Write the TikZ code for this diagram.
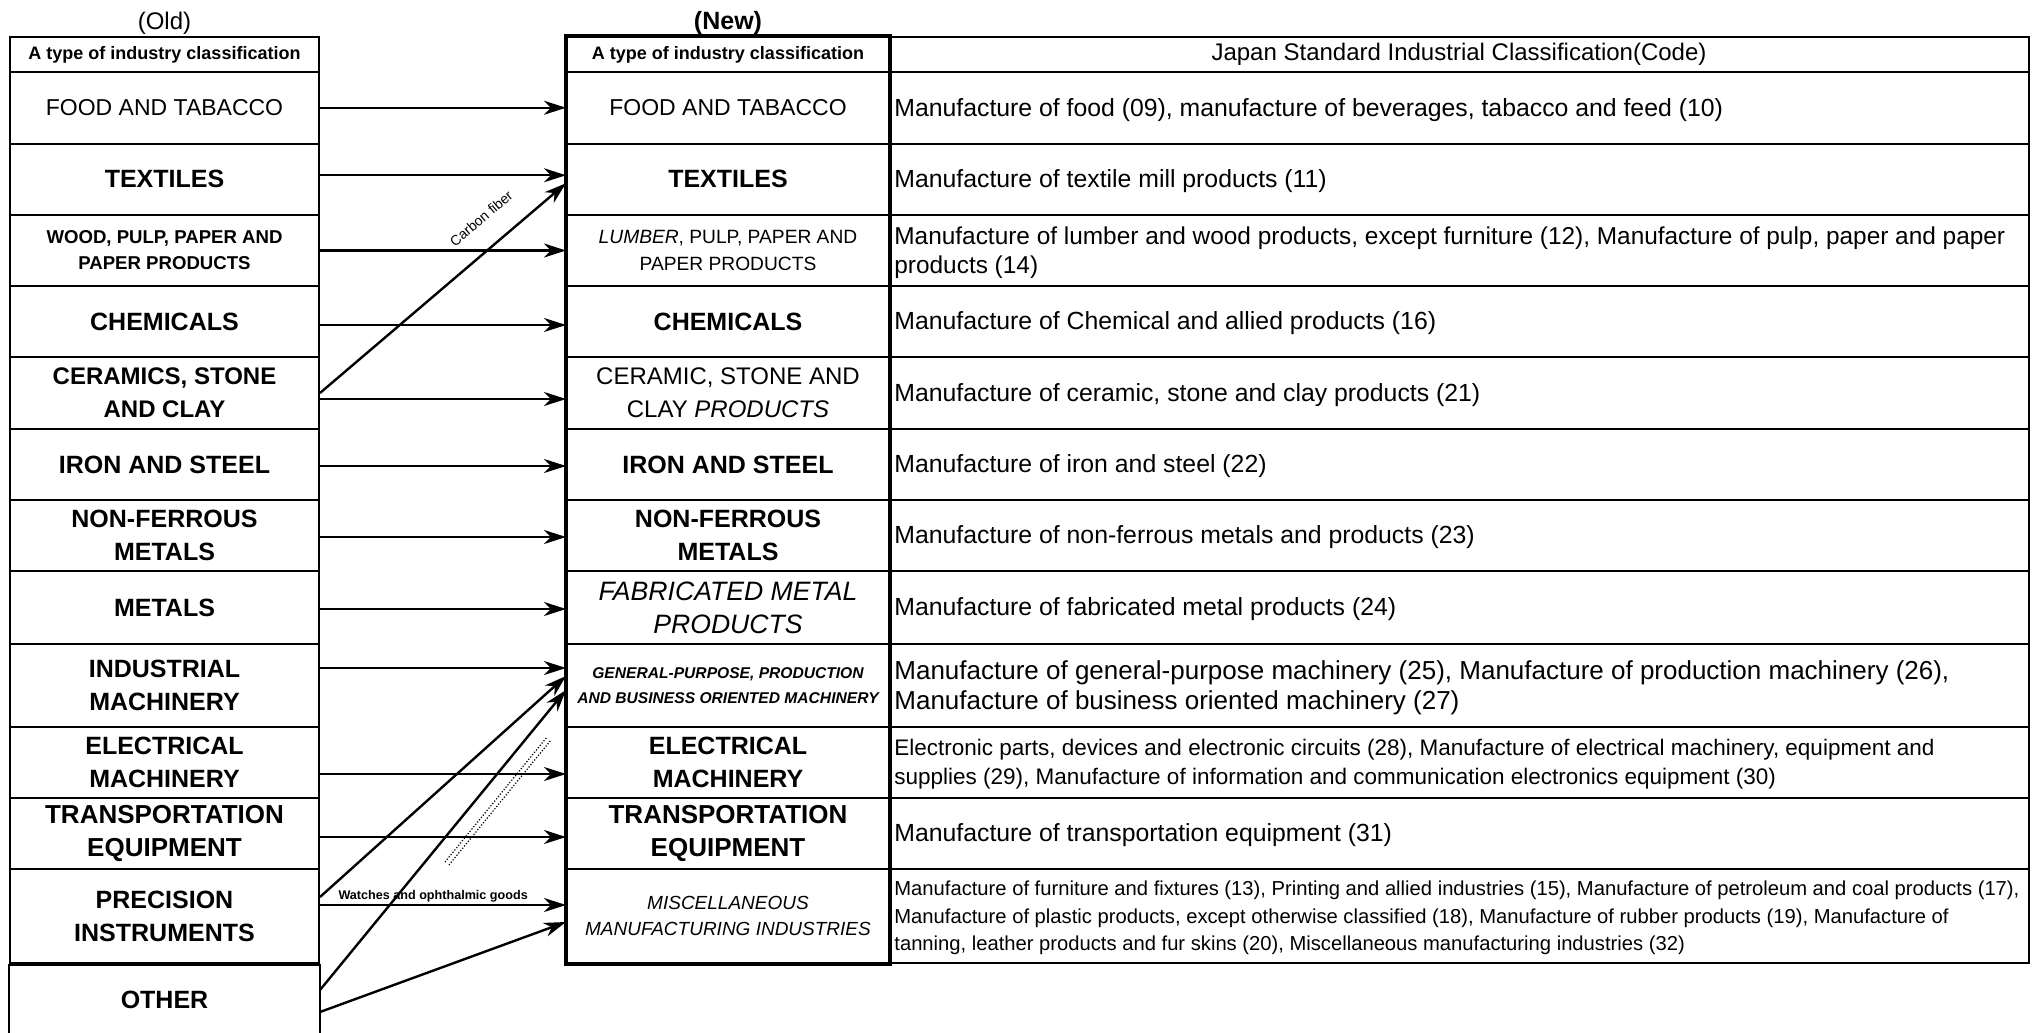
\documentclass[tikz,border=0pt]{standalone}
\usepackage{fontspec}
\setmainfont{Liberation Sans}
\usetikzlibrary{arrows.meta}
\begin{document}
\begin{tikzpicture}[x=0.5pt,y=-0.5pt,
 lbl/.style={draw, line width=1pt, inner sep=1pt, align=center, font=\bfseries\fontsize{12.5}{16.5}\selectfont},
 ocol/.style={lbl, minimum width=154.5pt},
 ncol/.style={lbl, minimum width=161pt},
 rcol/.style={draw, line width=1pt, minimum width=570pt, inner sep=0pt},
 rtxt/.style={anchor=west, align=left, inner sep=0pt, font=\fontsize{12.4}{15}\selectfont},
 hdrfont/.style={font=\bfseries\fontsize{9}{11}\selectfont},
 arr/.style={line width=1.2pt, -{Stealth[length=11pt,width=7pt,inset=3.5pt]}},
 small/.style={font=\fontsize{7}{8}\selectfont, inner sep=0pt}
]
\useasboundingbox (0,0) rectangle (2035,1033);

% titles
\node[font=\fontsize{12}{14}\selectfont] (tOld) at (164.5,23) {(Old)};
\node[font=\bfseries\fontsize{12.5}{14}\selectfont] (tNew) at (728,23) {(New)};

% old column
\node[ocol, hdrfont, minimum height=17.5pt] (oHdr) at (164.5,54.5) {A type of industry classification};
\node[ocol, font=\fontsize{11.5}{15}\selectfont, minimum height=35.75pt] (oFood) at (164.5,107.75) {FOOD AND TABACCO};
\node[ocol, minimum height=35.75pt] (oTex) at (164.5,179.25) {TEXTILES};
\node[ocol, font=\bfseries\fontsize{9.3}{13}\selectfont, minimum height=35.5pt] (oWood) at (164.5,250.5) {WOOD, PULP, PAPER AND\\PAPER PRODUCTS};
\node[ocol, minimum height=35.5pt] (oChem) at (164.5,321.5) {CHEMICALS};
\node[ocol, font=\bfseries\fontsize{12}{16.5}\selectfont, minimum height=36pt] (oCer) at (164.5,393) {CERAMICS, STONE\\AND CLAY};
\node[ocol, minimum height=35.5pt] (oIron) at (164.5,464.5) {IRON AND STEEL};
\node[ocol, minimum height=35.5pt] (oNonf) at (164.5,535.5) {NON-FERROUS\\METALS};
\node[ocol, minimum height=36.5pt] (oMet) at (164.5,607.5) {METALS};
\node[ocol, minimum height=41.5pt] (oInd) at (164.5,685.5) {INDUSTRIAL\\MACHINERY};
\node[ocol, minimum height=35.5pt] (oElec) at (164.5,762.5) {ELECTRICAL\\MACHINERY};
\node[ocol, font=\bfseries\fontsize{13}{16.5}\selectfont, minimum height=35.5pt] (oTrans) at (164.5,833.5) {TRANSPORTATION\\EQUIPMENT};
\node[ocol, minimum height=47pt] (oPrec) at (164.5,916) {PRECISION\\INSTRUMENTS};
\node[lbl, draw=none, minimum width=154.5pt, minimum height=35pt] (oOther) at (164.5,1000) {OTHER};
\draw[line width=1pt] ([yshift=-2pt]oOther.south west) -- (oOther.north west) (oOther.north east) -- ([yshift=-2pt]oOther.south east);
\draw[line width=1.6pt] (oPrec.south west) -- (oPrec.south east);

% new column
\node[ncol, hdrfont, minimum height=17.5pt] (nHdr) at (728,54.5) {A type of industry classification};
\node[ncol, font=\fontsize{11.5}{15}\selectfont, minimum height=35.75pt] (nFood) at (728,107.75) {FOOD AND TABACCO};
\node[ncol, minimum height=35.75pt] (nTex) at (728,179.25) {TEXTILES};
\node[ncol, font=\fontsize{9.6}{13.3}\selectfont, minimum height=35.5pt] (nLum) at (728,250.5) {\textit{LUMBER}, PULP, PAPER AND\\PAPER PRODUCTS};
\node[ncol, minimum height=35.5pt] (nChem) at (728,321.5) {CHEMICALS};
\node[ncol, font=\fontsize{12}{16.5}\selectfont, minimum height=36pt] (nCer) at (728,393) {CERAMIC, STONE AND\\CLAY \textit{PRODUCTS}};
\node[ncol, minimum height=35.5pt] (nIron) at (728,464.5) {IRON AND STEEL};
\node[ncol, minimum height=35.5pt] (nNonf) at (728,535.5) {NON-FERROUS\\METALS};
\node[ncol, font=\itshape\fontsize{13.3}{16.5}\selectfont, minimum height=36.5pt] (nFab) at (728,607.5) {FABRICATED METAL\\PRODUCTS};
\node[ncol, font=\bfseries\itshape\fontsize{7.8}{12.5}\selectfont, minimum height=41.5pt] (nGen) at (728,685.5) {GENERAL-PURPOSE, PRODUCTION\\AND BUSINESS ORIENTED MACHINERY};
\node[ncol, minimum height=35.5pt] (nElec) at (728,762.5) {ELECTRICAL\\MACHINERY};
\node[ncol, font=\bfseries\fontsize{13}{16.5}\selectfont, minimum height=35.5pt] (nTrans) at (728,833.5) {TRANSPORTATION\\EQUIPMENT};
\node[ncol, font=\itshape\fontsize{9.5}{13.3}\selectfont, minimum height=47pt] (nMisc) at (728,916) {MISCELLANEOUS\\MANUFACTURING INDUSTRIES};

% right column (cells)
\node[rcol, minimum height=17.5pt, font=\fontsize{12}{13}\selectfont] (rHdr) at (1459,54.5) {Japan Standard Industrial Classification(Code)};
\node[rcol, minimum height=35.75pt] (rFood) at (1459,107.75) {};
\node[rcol, minimum height=35.75pt] (rTex) at (1459,179.25) {};
\node[rcol, minimum height=35.5pt] (rWood) at (1459,250.5) {};
\node[rcol, minimum height=35.5pt] (rChem) at (1459,321.5) {};
\node[rcol, minimum height=36pt] (rCer) at (1459,393) {};
\node[rcol, minimum height=35.5pt] (rIron) at (1459,464.5) {};
\node[rcol, minimum height=35.5pt] (rNonf) at (1459,535.5) {};
\node[rcol, minimum height=36.5pt] (rMet) at (1459,607.5) {};
\node[rcol, minimum height=41.5pt] (rGen) at (1459,685.5) {};
\node[rcol, minimum height=35.5pt] (rElec) at (1459,762.5) {};
\node[rcol, minimum height=35.5pt] (rTrans) at (1459,833.5) {};
\node[rcol, minimum height=47pt] (rMisc) at (1459,916) {};

% right column texts
\node[rtxt] (xFood) at ([xshift=3pt,yshift=-1pt]rFood.west) {Manufacture of food (09), manufacture of beverages, tabacco and feed (10)};
\node[rtxt] (xTex) at ([xshift=3pt,yshift=-1pt]rTex.west) {Manufacture of textile mill products (11)};
\node[rtxt, font=\fontsize{12.2}{14.2}\selectfont] (xWood) at ([xshift=3pt,yshift=-1pt]rWood.west) {Manufacture of lumber and wood products, except furniture (12), Manufacture of pulp, paper and paper\\products (14)};
\node[rtxt] (xChem) at ([xshift=3pt,yshift=-1pt]rChem.west) {Manufacture of Chemical and allied products (16)};
\node[rtxt] (xCer) at ([xshift=3pt,yshift=-1pt]rCer.west) {Manufacture of ceramic, stone and clay products (21)};
\node[rtxt] (xIron) at ([xshift=3pt,yshift=-1pt]rIron.west) {Manufacture of iron and steel (22)};
\node[rtxt] (xNonf) at ([xshift=3pt,yshift=-1pt]rNonf.west) {Manufacture of non-ferrous metals and products (23)};
\node[rtxt] (xMet) at ([xshift=3pt,yshift=-1pt]rMet.west) {Manufacture of fabricated metal products (24)};
\node[rtxt, font=\fontsize{13}{15}\selectfont] (xGen) at ([xshift=3pt,yshift=-1pt]rGen.west) {Manufacture of general-purpose machinery (25), Manufacture of production machinery (26),\\Manufacture of business oriented machinery (27)};
\node[rtxt, font=\fontsize{11.25}{14.5}\selectfont] (xElec) at ([xshift=3pt,yshift=-1pt]rElec.west) {Electronic parts, devices and electronic circuits (28), Manufacture of electrical machinery, equipment and\\supplies (29), Manufacture of information and communication electronics equipment (30)};
\node[rtxt] (xTrans) at ([xshift=3pt,yshift=-1pt]rTrans.west) {Manufacture of transportation equipment (31)};
\node[rtxt, font=\fontsize{10.1}{13.7}\selectfont] (xMisc) at ([xshift=3pt,yshift=-1pt]rMisc.west) {Manufacture of furniture and fixtures (13), Printing and allied industries (15), Manufacture of petroleum and coal products (17),\\Manufacture of plastic products, except otherwise classified (18), Manufacture of rubber products (19), Manufacture of\\tanning, leather products and fur skins (20), Miscellaneous manufacturing industries (32)};

% thick frame of the new classification column
\draw[line width=2pt] (nHdr.north west) rectangle (nMisc.south east);

% arrows
\draw[arr] (oFood.east) -- (nFood.west);
\draw[arr] ([yshift=2pt]oTex.east) -- ([yshift=2pt]nTex.west);
\draw[arr] (oWood.east) -- (nLum.west);
\draw[arr] ([yshift=-1.75pt]oChem.east) -- ([yshift=-1.75pt]nChem.west);
\draw[arr] ([yshift=-3pt]oCer.east) -- ([yshift=-3pt]nCer.west);
\draw[arr] (oCer.east) -- node[small, sloped, pos=0.73, above=11pt] (lCarbon) {Carbon fiber} ([yshift=-2pt]nTex.west);
\draw[arr] ([yshift=-0.75pt]oIron.east) -- ([yshift=-0.75pt]nIron.west);
\draw[arr] ([yshift=-0.75pt]oNonf.east) -- ([yshift=-0.75pt]nNonf.west);
\draw[arr] ([yshift=-0.75pt]oMet.east) -- ([yshift=-0.75pt]nFab.west);
\draw[arr] ([yshift=8.75pt]oInd.east) -- ([yshift=8.75pt]nGen.west);
\draw[arr] ([yshift=9.5pt]oPrec.east) -- ([yshift=4.75pt]nGen.west);
\draw[arr] ([yshift=5pt]oOther.east) -- ([yshift=-2.25pt]nGen.west);
\draw[arr] ([yshift=-5.75pt]oElec.east) -- ([yshift=-5.75pt]nElec.west);
\draw[arr] ([yshift=-1.75pt]oTrans.east) -- ([yshift=-1.75pt]nTrans.west);
\draw[arr] ([yshift=5.5pt]oPrec.east) -- node[font=\bfseries\fontsize{6.3}{7}\selectfont, inner sep=0pt, pos=0.46, above=1pt] (lWatch) {Watches and ophthalmic goods} ([yshift=5.5pt]nMisc.west);
\draw[arr] ([yshift=-6pt]oOther.east) -- ([yshift=-3pt]nMisc.west);

% unreadable dotted label beside the OTHER arrow
\draw[line width=0.6pt, dash pattern=on 0.6pt off 0.9pt] (445,862) -- (547,737);
\draw[line width=0.6pt, dash pattern=on 0.6pt off 0.9pt] (449,865) -- (551,740);
\end{tikzpicture}
\end{document}
